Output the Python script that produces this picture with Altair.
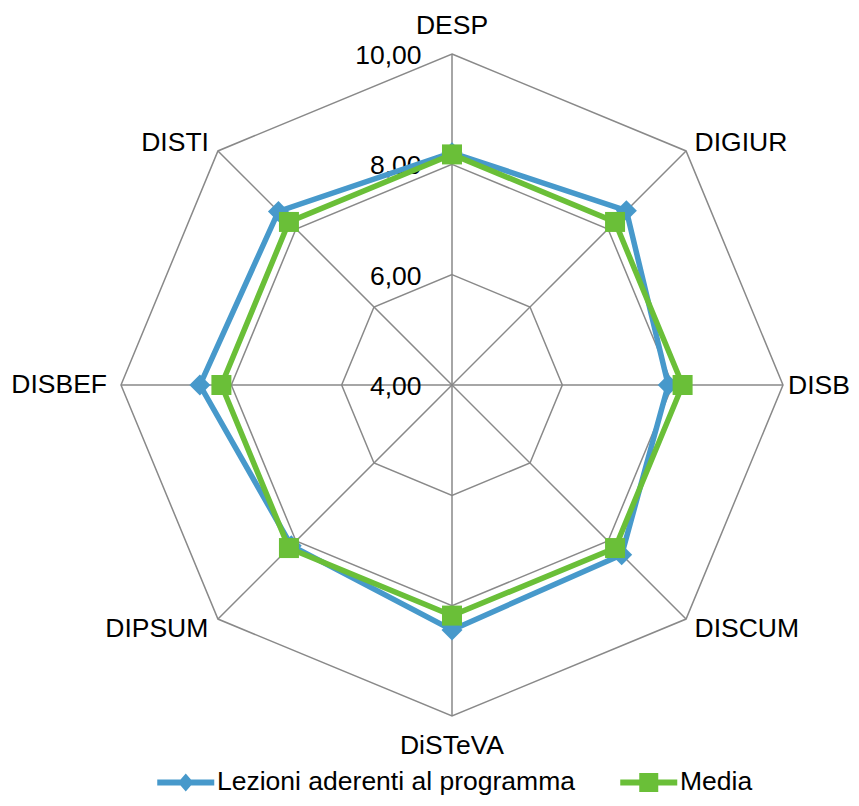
import altair as alt
import pandas as pd

# ---------------- data ----------------
categories = ["DESP", "DIGIUR", "DISB", "DISCUM", "DiSTeVA", "DIPSUM", "DISBEF", "DISTI"]
series_names = ["Lezioni aderenti al programma", "Media"]
lezioni = [8.21, 8.47, 7.92, 8.35, 8.44, 8.12, 8.57, 8.45]
media = [8.18, 8.18, 8.18, 8.18, 8.18, 8.18, 8.18, 8.18]
grid_levels = [6, 8, 10]
tick_values = [4, 6, 8, 10]
tick_labels = ["4,00", "6,00", "8,00", "10,00"]
axis_min = 4
axis_max = 10

BLUE = "#4799CB"
GREEN = "#6ABF38"
GRID = "#898989"
FONT = "Liberation Sans"
FS = 26.5
N = len(categories)

series_df = pd.DataFrame(
    [{"series": series_names[0], "category": c, "idx": i, "value": v} for i, (c, v) in enumerate(zip(categories, lezioni))]
    + [{"series": series_names[1], "category": c, "idx": i, "value": v} for i, (c, v) in enumerate(zip(categories, media))]
)
grid_df = pd.DataFrame([{"level": lv, "idx": i} for lv in grid_levels for i in range(N)])
spoke_df = pd.DataFrame([{"idx": i, "level": axis_max} for i in range(N)])
cat_df = pd.DataFrame([{"category": c, "idx": i, "level": axis_max} for i, c in enumerate(categories)])
tick_df = pd.DataFrame({"level": tick_values, "label": tick_labels})

R = axis_max - axis_min
xs = alt.Scale(domain=[-R, R], nice=False, zero=False)
ys = alt.Scale(domain=[-R, R], nice=False, zero=False)


def polar(chart, field="value"):
    return chart.transform_calculate(
        r=f"datum.{field} - {axis_min}",
        ang=f"datum.idx * 2 * PI / {N}",
    ).transform_calculate(
        px="datum.r * sin(datum.ang)",
        py="datum.r * cos(datum.ang)",
    )


X = alt.X("px:Q", scale=xs, axis=None)
Y = alt.Y("py:Q", scale=ys, axis=None)

# grid polygons
grid = polar(alt.Chart(grid_df), "level").mark_line(
    interpolate="linear-closed", color=GRID, strokeWidth=1.5
).encode(x=X, y=Y, detail="level:N", order="idx:Q")

# spokes
spokes = polar(alt.Chart(spoke_df), "level").transform_calculate(zero="0").mark_rule(
    color=GRID, strokeWidth=1.5
).encode(x=alt.X("zero:Q", scale=xs, axis=None), y=alt.Y("zero:Q", scale=ys, axis=None), x2="px:Q", y2="py:Q")

# value labels
ticks = alt.Chart(tick_df).transform_calculate(
    px="0", py=f"datum.level - {axis_min}"
).mark_text(
    align="right", baseline="alphabetic", dx=-30.5, dy=10, font=FONT, fontSize=FS, color="black"
).encode(x=X, y=Y, text="label:N")

# category labels
label_styles = [
    (0, dict(align="center", dx=0, dy=-20)),
    (1, dict(align="left", dx=8.5, dy=0)),
    (2, dict(align="left", dx=5, dy=8.5)),
    (3, dict(align="left", dx=8.5, dy=18)),
    (4, dict(align="center", dx=0, dy=38)),
    (5, dict(align="right", dx=-9.6, dy=18)),
    (6, dict(align="right", dx=-14, dy=8)),
    (7, dict(align="right", dx=-9, dy=0)),
]
cat_layers = []
for i, st in label_styles:
    cat_layers.append(
        polar(alt.Chart(cat_df), "level").transform_filter(f"datum.idx == {i}").mark_text(
            baseline="alphabetic", font=FONT, fontSize=FS, color="black", **st
        ).encode(x=X, y=Y, text="category:N")
    )


def series_layers(name, color, shape, size):
    base = polar(alt.Chart(series_df)).transform_filter(f"datum.series == '{name}'")
    line = base.mark_line(interpolate="linear-closed", color=color, strokeWidth=5.5).encode(
        x=X, y=Y, order="idx:Q"
    )
    pts = base.mark_point(shape=shape, filled=True, color=color, size=size, opacity=1, strokeWidth=0).encode(
        x=X, y=Y
    )
    return [line, pts]


blue_layers = series_layers(series_names[0], BLUE, "diamond", 440)
green_layers = series_layers(series_names[1], GREEN, "square", 400)

# legend (symbols: line + marker)
legend_paths = [
    "M-2.85,-0.3L2.85,-0.3L2.85,0.3L-2.85,0.3Z M0,-0.9L0.78,0L0,0.9L-0.78,0Z",
    "M-2.85,-0.3L2.85,-0.3L2.85,0.3L-2.85,0.3Z M-0.95,-0.95L0.95,-0.95L0.95,0.95L-0.95,0.95Z",
]
leg = alt.Legend(
    orient="none", legendX=51.5, legendY=715, direction="horizontal", title=None,
    labelFont=FONT, labelFontSize=FS, labelColor="black", labelLimit=1000,
    symbolSize=400, symbolStrokeWidth=0, symbolOpacity=1, labelOffset=18,
    columnPadding=44, padding=0,
)
legend_layer = alt.Chart(series_df).transform_filter("false").mark_point(filled=True).encode(
    x=alt.X("idx:Q", scale=xs, axis=None),
    y=alt.Y("value:Q", scale=ys, axis=None),
    color=alt.Color("series:N", scale=alt.Scale(domain=series_names, range=[BLUE, GREEN]), legend=leg),
    shape=alt.Shape("series:N", scale=alt.Scale(domain=series_names, range=legend_paths), legend=leg),
)

chart = alt.layer(
    grid, spokes, ticks, *cat_layers, *blue_layers, *green_layers, legend_layer
).properties(
    width=662, height=662,
    autosize=alt.AutoSizeParams(type="none"),
    padding={"left": 113, "top": 46, "right": 68, "bottom": 82},
    background="white",
).configure_view(stroke=None)

chart.save("out.html", embed_options={"renderer": "svg", "actions": False})
